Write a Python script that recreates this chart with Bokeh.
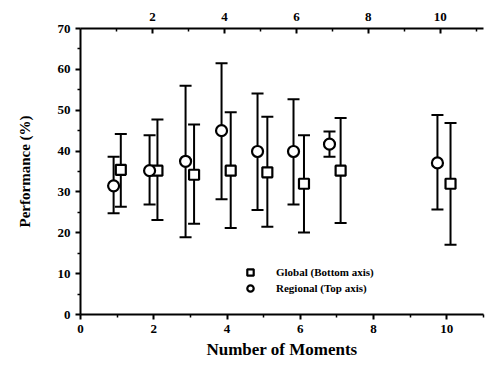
from bokeh.plotting import figure
from bokeh.models import (ColumnDataSource, Whisker, TeeHead, LinearAxis, Range1d,
                          FixedTicker, Legend, LegendItem)
from bokeh.transform import dodge
from bokeh.embed import file_html
from bokeh.resources import INLINE

moments = [1, 2, 3, 4, 5, 6, 7, 10]
global_perf = [35.4, 35.2, 34.2, 35.2, 34.8, 32.0, 35.2, 32.0]
global_upper = [44.2, 47.7, 46.5, 49.5, 48.4, 43.9, 48.1, 46.9]
global_lower = [26.4, 23.1, 22.2, 21.2, 21.5, 20.1, 22.4, 17.1]
regional_perf = [31.5, 35.2, 37.5, 45.0, 39.9, 39.9, 41.7, 37.1]
regional_upper = [38.6, 43.9, 56.0, 61.5, 54.1, 52.7, 44.8, 48.8]
regional_lower = [24.8, 26.9, 18.9, 28.2, 25.6, 26.9, 38.6, 25.7]

x_ticks = [0, 2, 4, 6, 8, 10]
top_ticks = [2, 4, 6, 8, 10]
y_ticks = [0, 10, 20, 30, 40, 50, 60, 70]

FONT = "Liberation Serif"

gsrc = ColumnDataSource(dict(x=moments, y=global_perf, upper=global_upper, lower=global_lower))
rsrc = ColumnDataSource(dict(x=moments, y=regional_perf, upper=regional_upper, lower=regional_lower))

p = figure(width=485, height=368, x_range=Range1d(0, 11), y_range=Range1d(0, 70),
           output_backend="svg", toolbar_location=None,
           min_border_left=80, min_border_right=2, min_border_top=28, min_border_bottom=54)
p.extra_x_ranges = {"top": Range1d(0, 11.2)}
p.outline_line_color = None
p.xgrid.visible = False
p.ygrid.visible = False
p.background_fill_color = "white"
p.border_fill_color = "white"

def style_axis(ax):
    ax.axis_line_width = 2
    ax.axis_line_color = "black"
    ax.major_tick_line_width = 2
    ax.minor_tick_line_width = 1.5
    ax.major_tick_line_color = "black"
    ax.minor_tick_line_color = "black"
    ax.major_label_text_font = FONT
    ax.major_label_text_font_style = "bold"
    ax.major_label_text_font_size = "13px"
    ax.major_label_text_color = "black"
    ax.axis_label_text_font = FONT
    ax.axis_label_text_font_style = "bold"
    ax.axis_label_text_color = "black"

xa = p.xaxis[0]
style_axis(xa)
xa.ticker = FixedTicker(ticks=x_ticks, minor_ticks=[1, 3, 5, 7, 9, 11])
xa.major_tick_out = 5
xa.major_tick_in = 0
xa.minor_tick_out = 3
xa.minor_tick_in = 0
xa.axis_label = "Number of Moments"
xa.axis_label_text_font_size = "17px"
xa.axis_label_standoff = 4

ya = p.yaxis[0]
style_axis(ya)
ya.ticker = FixedTicker(ticks=y_ticks, minor_ticks=[5, 15, 25, 35, 45, 55, 65])
ya.major_tick_out = 5
ya.major_tick_in = 0
ya.minor_tick_out = 3
ya.minor_tick_in = 0
ya.major_label_standoff = 5
ya.axis_label = "Performance (%)"
ya.axis_label_text_font_size = "15px"
ya.axis_label_standoff = 22

top = LinearAxis(x_range_name="top")
style_axis(top)
top.ticker = FixedTicker(ticks=top_ticks, minor_ticks=[1, 3, 5, 7, 9, 11])
top.major_tick_out = 0
top.major_tick_in = 5
top.minor_tick_out = 0
top.minor_tick_in = 3
top.major_label_standoff = 8
p.add_layout(top, "above")

def head():
    return TeeHead(size=12, line_width=2, line_color="black")

gw = Whisker(base=dodge("x", 0.1), upper="upper", lower="lower", source=gsrc,
             dimension="height", line_color="black", line_width=2,
             upper_head=head(), lower_head=head(), level="underlay")
rw = Whisker(base=dodge("x", -0.08), upper="upper", lower="lower", source=rsrc,
             dimension="height", line_color="black", line_width=2,
             upper_head=head(), lower_head=head(), level="underlay", x_range_name="top")
p.add_layout(gw)
p.add_layout(rw)

g_r = p.scatter(x=dodge("x", 0.1), y="y", source=gsrc, marker="square", size=10,
                fill_color="white", line_color="black", line_width=2.2)
r_r = p.scatter(x=dodge("x", -0.08), y="y", source=rsrc, marker="circle", size=11,
                fill_color="white", line_color="black", line_width=2.2, x_range_name="top")

legend = Legend(items=[LegendItem(label="Global (Bottom axis)", renderers=[g_r]),
                       LegendItem(label="Regional (Top axis)", renderers=[r_r])],
                location=(162, 18), orientation="vertical",
                glyph_width=16, glyph_height=16, label_height=16, spacing=0,
                padding=0, margin=0, label_standoff=18,
                label_text_font=FONT, label_text_font_style="bold",
                label_text_font_size="11px", label_text_color="black",
                border_line_color=None, background_fill_alpha=0)
p.add_layout(legend)

open("out.html", "w").write(file_html(p, INLINE))
